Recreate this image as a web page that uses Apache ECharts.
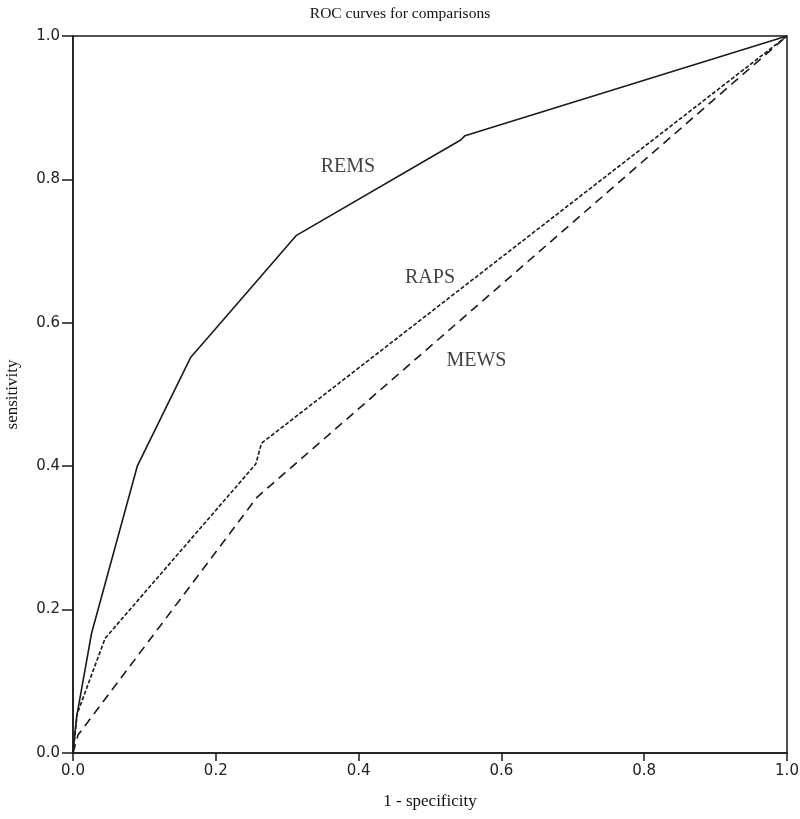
<!DOCTYPE html>
<html>
<head>
<meta charset="utf-8">
<script src="https://cdn.jsdelivr.net/npm/echarts@6/dist/echarts.min.js"></script>
<style>html,body{margin:0;padding:0;background:#fff}#c{width:800px;height:819px}</style>
</head>
<body>
<div id="c"></div>
<script>
const xTicks = [0.0, 0.2, 0.4, 0.6, 0.8, 1.0];
const remsX = [0, 0.005, 0.026, 0.09, 0.165, 0.213, 0.313, 0.543, 0.549, 1];
const remsY = [0, 0.05, 0.167, 0.40, 0.552, 0.607, 0.722, 0.855, 0.861, 1];
const rapsX = [0, 0.006, 0.045, 0.256, 0.264, 1];
const rapsY = [0, 0.055, 0.160, 0.403, 0.432, 1];
const mewsX = [0, 0.007, 0.258, 1];
const mewsY = [0, 0.025, 0.357, 1];
const labelNames = ['REMS', 'RAPS', 'MEWS'];
const labelX = [0.385, 0.50, 0.565];
const labelY = [0.817, 0.663, 0.547];

const zip = (a, b) => a.map((v, i) => [v, b[i]]);
const serif = 'Liberation Serif';
const ink = '#1a1a1a';

const chart = echarts.init(document.getElementById('c'), null, {renderer: 'canvas'});
chart.setOption({
  backgroundColor: '#fff',
  animation: false,
  title: {
    text: 'ROC curves for comparisons',
    left: 'center', top: 1,
    textStyle: {fontFamily: serif, fontSize: 15.5, fontWeight: 'normal', color: '#111'}
  },
  grid: {left: 73, right: 13, top: 36, bottom: 66, containLabel: false, outerBoundsMode: 'none',
    show: true, borderColor: ink, borderWidth: 1.5, backgroundColor: 'transparent'},
  xAxis: {
    type: 'value', min: 0, max: 1, interval: 0.2,
    name: '1 - specificity', nameLocation: 'middle', nameGap: 40,
    nameTextStyle: {fontFamily: serif, fontSize: 17, color: '#111'},
    axisLine: {show: true, lineStyle: {color: ink, width: 1.5}},
    axisTick: {show: true, length: 8, lineStyle: {color: ink, width: 1.5}},
    axisLabel: {fontFamily: 'DejaVu Sans', fontSize: 15, color: '#222', margin: 11,
      formatter: v => v.toFixed(1)},
    splitLine: {show: false}
  },
  yAxis: {
    type: 'value', min: 0, max: 1, interval: 0.2,
    name: 'sensitivity', nameLocation: 'middle', nameGap: 52,
    nameTextStyle: {fontFamily: serif, fontSize: 17, color: '#111'},
    axisLine: {show: true, lineStyle: {color: ink, width: 1.5}},
    axisTick: {show: true, length: 11, lineStyle: {color: ink, width: 1.5}},
    axisLabel: {fontFamily: 'DejaVu Sans', fontSize: 15, color: '#222', margin: 13,
      formatter: v => v.toFixed(1)},
    splitLine: {show: false}
  },
  series: [
    {name: 'REMS', type: 'line', data: zip(remsX, remsY), showSymbol: false,
      lineStyle: {color: ink, width: 1.6, type: 'solid'}},
    {name: 'RAPS', type: 'line', data: zip(rapsX, rapsY), showSymbol: false,
      lineStyle: {color: ink, width: 1.6, type: [4, 2]}},
    {name: 'MEWS', type: 'line', data: zip(mewsX, mewsY), showSymbol: false,
      lineStyle: {color: ink, width: 1.6, type: [9, 6]}},
    {name: 'labels', type: 'scatter', data: labelNames.map((n, i) => ({name: n, value: [labelX[i], labelY[i]]})),
      symbolSize: 0, silent: true,
      label: {show: true, position: 'inside', formatter: p => p.name,
        fontFamily: serif, fontSize: 20, color: '#111'}}
  ]
});
</script>
</body>
</html>
